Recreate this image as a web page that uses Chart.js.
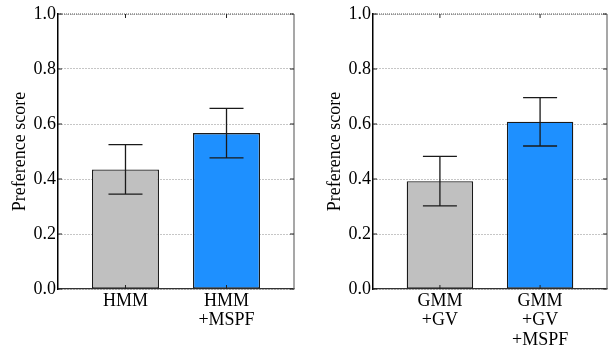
<!DOCTYPE html>
<html>
<head>
<meta charset="utf-8">
<script src="https://cdn.jsdelivr.net/npm/chart.js@4.4.1/dist/chart.umd.min.js"></script>
<style>
  html, body { margin: 0; padding: 0; background: #fff; }
  #wrap { position: relative; width: 613px; height: 347px; overflow: hidden; }
  canvas { position: absolute; top: 0; }
</style>
</head>
<body>
<div id="wrap">
  <canvas id="left" width="310" height="347" style="left:0px"></canvas>
  <canvas id="right" width="298" height="347" style="left:315px"></canvas>
</div>
<script>
// ---- data ----
const leftCategories = [["HMM"], ["HMM", "+MSPF"]];
const leftValues = [0.435, 0.567];
const leftErrors = [0.09, 0.09];

const rightCategories = [["GMM", "+GV"], ["GMM", "+GV", "+MSPF"]];
const rightValues = [0.392, 0.608];
const rightErrors = [0.09, 0.088];

const yTickLabels = ["0.0", "0.2", "0.4", "0.6", "0.8", "1.0"];
const barColors = ["#c0c0c0", "#1e90ff"];
const yTitle = "Preference score";

const FONT = "'Liberation Serif', 'Times New Roman', serif";

const errorBarPlugin = {
  id: 'errorBars',
  afterDatasetsDraw(chart, args, opts) {
    const ctx = chart.ctx;
    const xs = chart.scales.x, ys = chart.scales.y;
    const ds = chart.data.datasets[0];
    const errs = opts.errors || [];
    ctx.save();
    ctx.strokeStyle = '#1a1a1a';
    ctx.lineWidth = 1.3;
    ds.data.forEach((pt, i) => {
      const e = errs[i];
      if (e == null) return;
      const x = xs.getPixelForValue(pt.x);
      const yt = ys.getPixelForValue(pt.y + e);
      const yb = ys.getPixelForValue(pt.y - e);
      const cap = 17;
      ctx.beginPath();
      ctx.moveTo(x, yt); ctx.lineTo(x, yb);
      ctx.moveTo(x - cap, yt); ctx.lineTo(x + cap, yt);
      ctx.moveTo(x - cap, yb); ctx.lineTo(x + cap, yb);
      ctx.stroke();
    });
    ctx.restore();
  }
};

const framePlugin = {
  id: 'frame',
  afterDraw(chart) {
    const ctx = chart.ctx;
    const a = chart.chartArea;
    const xs = chart.scales.x, ys = chart.scales.y;
    ctx.save();
    // right spine
    ctx.strokeStyle = '#8a8a8a';
    ctx.lineWidth = 1.5;
    ctx.beginPath();
    ctx.moveTo(a.right, a.top); ctx.lineTo(a.right, a.bottom);
    ctx.stroke();
    // top spine (dotted dark)
    ctx.strokeStyle = '#555';
    ctx.lineWidth = 1.2;
    ctx.setLineDash([1, 1]);
    ctx.beginPath();
    ctx.moveTo(a.left, a.top); ctx.lineTo(a.right, a.top);
    ctx.stroke();
    ctx.setLineDash([]);
    // inward ticks
    ctx.strokeStyle = '#222';
    ctx.lineWidth = 1;
    const tl = 4;
    ys.ticks.forEach(t => {
      const y = ys.getPixelForValue(t.value);
      ctx.beginPath();
      ctx.moveTo(a.left, y); ctx.lineTo(a.left + tl, y);
      ctx.moveTo(a.right, y); ctx.lineTo(a.right - tl, y);
      ctx.stroke();
    });
    xs.ticks.forEach(t => {
      const x = xs.getPixelForValue(t.value);
      ctx.beginPath();
      ctx.moveTo(x, a.bottom); ctx.lineTo(x, a.bottom - tl);
      ctx.moveTo(x, a.top); ctx.lineTo(x, a.top + tl);
      ctx.stroke();
    });
    ctx.restore();
  }
};

function makeChart(id, categories, values, errors, rightPad) {
  const data = values.map((v, i) => ({ x: i, y: v }));
  return new Chart(document.getElementById(id), {
    type: 'bar',
    data: {
      datasets: [{
        data: data,
        backgroundColor: barColors,
        borderColor: '#1a1a1a',
        borderWidth: 1.3,
        borderSkipped: false,
        barPercentage: 0.663,
        categoryPercentage: 1.0
      }]
    },
    plugins: [errorBarPlugin, framePlugin],
    options: {
      responsive: false,
      devicePixelRatio: 1,
      animation: false,
      layout: { padding: { top: 14, right: rightPad, left: 0, bottom: 0 } },
      plugins: {
        legend: { display: false },
        tooltip: { enabled: false },
        errorBars: { errors: errors }
      },
      scales: {
        x: {
          type: 'linear',
          offset: false,
          min: -0.668,
          max: 1.668,
          afterBuildTicks(scale) {
            scale.ticks = categories.map((c, i) => ({ value: i }));
          },
          afterFit(scale) { scale.height = 58; },
          grid: { display: false, drawTicks: false, offset: false },
          border: { display: true, color: '#333', width: 1.2 },
          ticks: {
            autoSkip: false,
            maxRotation: 0,
            padding: 2,
            color: '#000',
            font: { family: FONT, size: 18, lineHeight: 1.1 },
            callback(v) { return categories[v] !== undefined ? categories[v] : ''; }
          }
        },
        y: {
          min: 0,
          max: 1,
          z: 1,
          afterBuildTicks(scale) {
            scale.ticks = yTickLabels.map(s => ({ value: parseFloat(s) }));
          },
          afterFit(scale) { scale.width = 58; },
          grid: { color: '#8c8c8c', lineWidth: 1, drawTicks: false },
          border: { display: true, color: '#000', width: 1.5, dash: [1, 2] },
          ticks: {
            padding: 2,
            color: '#000',
            font: { family: FONT, size: 18 },
            callback(v) {
              const i = yTickLabels.findIndex(s => Math.abs(parseFloat(s) - v) < 1e-9);
              return i >= 0 ? yTickLabels[i] : '';
            }
          },
          title: {
            display: true,
            text: yTitle,
            color: '#000',
            font: { family: FONT, size: 18 },
            padding: { top: 9, bottom: 0 }
          }
        }
      }
    }
  });
}

makeChart('left', leftCategories, leftValues, leftErrors, 16);
makeChart('right', rightCategories, rightValues, rightErrors, 6);
</script>
</body>
</html>
